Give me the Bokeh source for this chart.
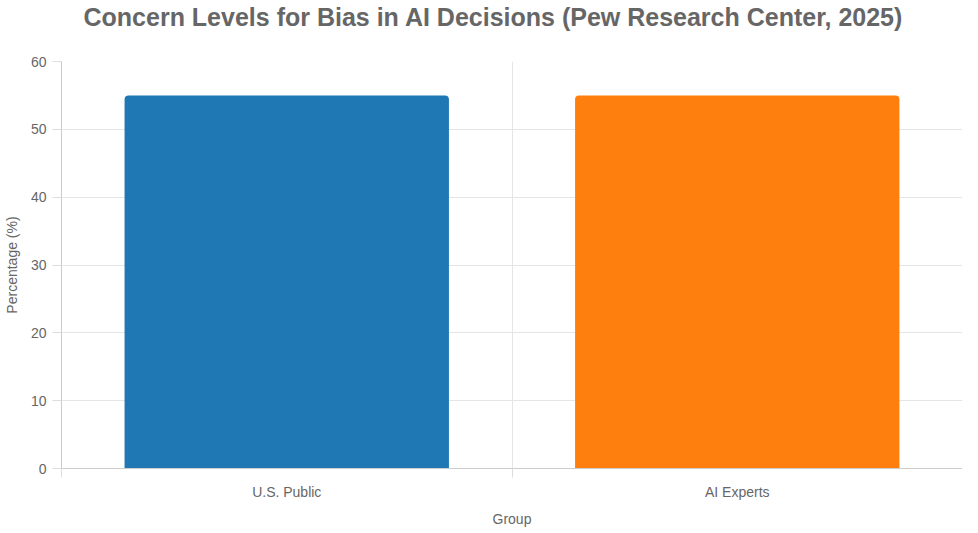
import numpy as np

from bokeh.plotting import figure
from bokeh.models import Range1d, FixedTicker, ColumnDataSource
from bokeh.embed import file_html
from bokeh.resources import INLINE

# data
groups = ["U.S. Public", "AI Experts"]
concern = [55, 55]
colors = ["#1f77b4", "#ff7f0e"]
y_ticks = [0, 10, 20, 30, 40, 50, 60]
title = "Concern Levels for Bias in AI Decisions (Pew Research Center, 2025)"

FONT = "Liberation Sans"
GREY = "#666666"

# bars sit in the middle of each category slot
xpos = np.arange(len(groups)) + 0.5
source = ColumnDataSource(data=dict(x=xpos, top=concern, color=colors, group=groups))

# a blank second line lifts the title away from the frame
p = figure(width=962, height=529, output_backend="svg", toolbar_location=None,
           x_range=Range1d(0, len(groups)), y_range=Range1d(0, 60), title=title + "\n ",
           min_border_left=54, min_border_right=0, min_border_top=61, min_border_bottom=0)

p.vbar(x="x", top="top", width=0.72, source=source, fill_color="color",
       line_color=None, border_radius=(4, 4, 0, 0))

p.title.align = "left"
p.title.offset = 22
p.title.text_font = FONT
p.title.text_font_size = "25px"
p.title.text_font_style = "bold"
p.title.text_color = GREY
p.title.text_line_height = 1.1
p.title.standoff = 0

# x axis: labels at centres, tick marks on the boundaries
p.xaxis.ticker = FixedTicker(ticks=list(xpos), minor_ticks=list(range(len(groups) + 1)))
p.xaxis.major_label_overrides = {float(x): g for x, g in zip(xpos, groups)}
p.xaxis.major_tick_out = 0
p.xaxis.major_tick_in = 0
p.xaxis.minor_tick_out = 9
p.xaxis.minor_tick_in = 0
p.xaxis.minor_tick_line_color = "#dddddd"
p.xaxis.axis_label = "Group"

# y axis
p.yaxis.ticker = FixedTicker(ticks=y_ticks)
p.yaxis.major_tick_out = 9
p.yaxis.major_tick_in = 0
p.yaxis.minor_tick_line_color = None
p.yaxis.major_tick_line_color = "#dddddd"
p.yaxis.axis_label = "Percentage (%)"

for ax in (p.xaxis, p.yaxis):
    ax.axis_line_color = "#cccccc"
    ax.major_label_text_font = FONT
    ax.major_label_text_font_size = "14px"
    ax.major_label_text_color = GREY
    ax.axis_label_text_font = FONT
    ax.axis_label_text_font_size = "14px"
    ax.axis_label_text_font_style = "normal"
    ax.axis_label_text_color = GREY
    ax.major_label_standoff = 6
    ax.axis_label_standoff = 8

p.xgrid.ticker = FixedTicker(ticks=list(range(len(groups) + 1)))
p.xgrid.grid_line_color = "#e5e5e5"
p.ygrid.grid_line_color = "#e5e5e5"
p.outline_line_color = None

open("out.html", "w").write(file_html(p, INLINE))
